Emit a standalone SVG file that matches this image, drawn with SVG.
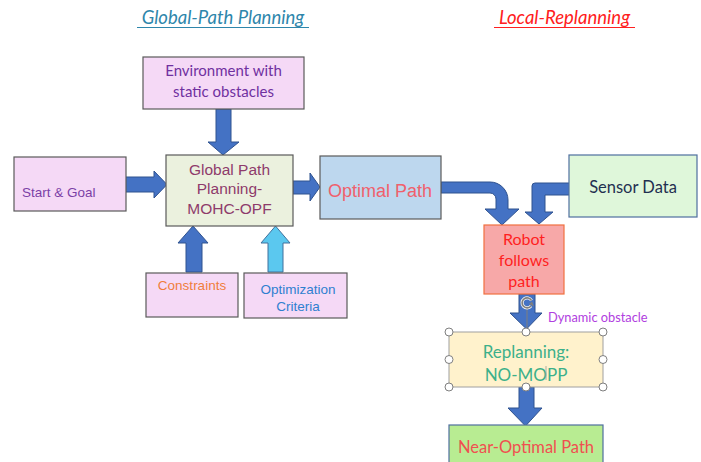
<svg xmlns="http://www.w3.org/2000/svg" width="701" height="462" viewBox="0 0 701 462">
  <style>
    .box { stroke: #5a5a5a; stroke-width: 1.2; }
    .arr { fill: #4472c4; stroke: #2f528f; stroke-width: 1; }
    .arr2 { fill: #5bc8ef; stroke: #41719c; stroke-width: 1; }
    .ar { font-family: "Liberation Sans", Arial, sans-serif; text-anchor: middle; }
    .ca { font-family: Lato, "Open Sans", sans-serif; text-anchor: middle; }
    .handle { fill: #ffffff; stroke: #7f7f7f; stroke-width: 1; }
  </style>

  <!-- section headings -->
  <g id="title-global">
    <text x="223" y="24" class="ca" font-size="18.5" font-style="italic" fill="#2e86ab">Global-Path Planning</text>
    <line x1="137" y1="27.5" x2="309" y2="27.5" stroke="#2e86ab" stroke-width="1.2"/>
  </g>
  <g id="title-local">
    <text x="564.5" y="24" class="ca" font-size="18.5" font-style="italic" fill="#ff2020">Local-Replanning</text>
    <line x1="494" y1="27.5" x2="635" y2="27.5" stroke="#ff2020" stroke-width="1.2"/>
  </g>

  <!-- connectors (block arrows) -->
  <g id="connectors">
    <!-- environment -> global planner -->
    <path class="arr" d="M216,109 H231 V142 H239 L223,155 L208,142 H216 Z"/>
    <!-- start & goal -> global planner -->
    <path class="arr" d="M124,177 H154 V171 L167,184.5 L154,198 V192 H124 Z"/>
    <!-- global planner -> optimal path -->
    <path class="arr" d="M293,181 H310 V173 L320,187 L310,201 V194 H293 Z"/>
    <!-- constraints -> global planner -->
    <path class="arr" d="M186,272 V243 H178 L193,226 L208,243 H202 V272 Z"/>
    <!-- optimization criteria -> global planner -->
    <path class="arr2" d="M268,272 V243 H261 L275.5,226 L290,243 H283 V272 Z"/>
    <!-- optimal path -> robot (bent) -->
    <path class="arr" d="M441,182 H490 A18,18 0 0 1 508,200 V209 H519 L502,225 L485,209 H496 V199 A6,6 0 0 0 490,193 H441 Z"/>
    <!-- sensor data -> robot (bent) -->
    <path class="arr" d="M570,183 H535 A3,3 0 0 0 532,186 V212 H525 L539,224 L553,212 H545 V195 H570 Z"/>
    <!-- robot -> replanning (dynamic obstacle) -->
    <path class="arr" d="M519,294 H535 V313 H542 L526.5,329 L510,313 H519 Z"/>
    <!-- replanning -> near-optimal path -->
    <path class="arr" d="M519,387 H534 V408 H542 L525.5,426 L508,408 H519 Z"/>
  </g>

  <g id="environment">
    <rect class="box" x="143" y="57" width="161" height="52" fill="#f5d9f6"/>
    <text class="ca" x="223.5" y="76" font-size="15" fill="#7030a0">Environment with</text>
    <text class="ca" x="223.5" y="97" font-size="15" fill="#7030a0">static obstacles</text>
  </g>

  <g id="start-goal">
    <rect class="box" x="14" y="157" width="112" height="54" fill="#f5d9f6"/>
    <text x="22" y="197" font-family="Liberation Sans, Arial, sans-serif" font-size="13.5" fill="#7b3fa6">Start &amp; Goal</text>
  </g>

  <g id="global-planner">
    <rect class="box" x="166" y="155" width="127" height="71" fill="#ebf1de" stroke="#7f7f7f"/>
    <text class="ar" x="229.5" y="175" font-size="15.5" fill="#8e3b6b">Global Path</text>
    <text class="ar" x="229.5" y="194" font-size="15.5" fill="#8e3b6b">Planning-</text>
    <text class="ar" x="229.5" y="214" font-size="15.5" fill="#8e3b6b">MOHC-OPF</text>
  </g>

  <g id="optimal-path">
    <rect class="box" x="320" y="156" width="121" height="63" fill="#bdd7ee"/>
    <text class="ar" x="380" y="197" font-size="18" fill="#f0606c">Optimal Path</text>
  </g>

  <g id="constraints">
    <rect class="box" x="146" y="273" width="92" height="44" fill="#f5d9f6"/>
    <text class="ar" x="192" y="290" font-size="13.5" fill="#f07d3c">Constraints</text>
  </g>

  <g id="optimization-criteria">
    <rect class="box" x="244" y="273" width="103" height="45" fill="#f5d9f6" stroke="#7f7f7f"/>
    <text class="ar" x="298" y="294" font-size="13.5" fill="#2f80d0">Optimization</text>
    <text class="ar" x="298" y="311" font-size="13.5" fill="#2f80d0">Criteria</text>
  </g>

  <g id="sensor-data">
    <rect x="569" y="155" width="128" height="62" fill="#dff7da" stroke="#4f6f9f" stroke-width="1.2"/>
    <text class="ca" x="633" y="192.5" font-size="16.5" fill="#1f3050">Sensor Data</text>
  </g>

  <g id="robot">
    <rect x="484" y="225" width="80" height="69" fill="#f7a8a8" stroke="#f07040" stroke-width="1.2"/>
    <text class="ca" x="524" y="245" font-size="16" fill="#ff1f1f">Robot</text>
    <text class="ca" x="524" y="265.5" font-size="16" fill="#ff1f1f">follows</text>
    <text class="ca" x="524" y="287" font-size="16" fill="#ff1f1f">path</text>
  </g>

  <g id="dynamic-obstacle-label">
    <text x="548" y="322" font-family="Lato, 'Open Sans', sans-serif" font-size="12.8" fill="#b040e0">Dynamic obstacle</text>
  </g>

  <g id="replanning">
    <rect x="449" y="332" width="154" height="55" fill="#fff2cc" stroke="#a0a0a0" stroke-width="1"/>
    <text class="ca" x="526" y="357.5" font-size="17" fill="#3cb08a">Replanning:</text>
    <text class="ca" x="526" y="380.5" font-size="17" fill="#3cb08a">NO-MOPP</text>
    <!-- text caret -->
    <line x1="546" y1="366" x2="546" y2="380" stroke="#9a9a9a" stroke-width="0.8"/>
    <!-- rotation handle and its stem -->
    <line x1="527" y1="308" x2="527" y2="329" stroke="#7f7f7f" stroke-width="1"/>
    <path d="M531.5,300.5 A5,5 0 1 0 531,306" fill="none" stroke="#f2f2f2" stroke-width="3.2"/>
    <path d="M531.5,300.5 A5,5 0 1 0 531,306" fill="none" stroke="#7f7f7f" stroke-width="1.6"/>
    <path d="M529,304 L534,306.5 L532,301.5 Z" fill="#7f7f7f"/>
    <!-- sizing handles -->
    <circle class="handle" cx="449" cy="332" r="4"/>
    <circle class="handle" cx="526" cy="332" r="4"/>
    <circle class="handle" cx="603" cy="332" r="4"/>
    <circle class="handle" cx="449" cy="359.5" r="4"/>
    <circle class="handle" cx="603" cy="359.5" r="4"/>
    <circle class="handle" cx="449" cy="387" r="4"/>
    <circle class="handle" cx="526" cy="387" r="4"/>
    <circle class="handle" cx="603" cy="387" r="4"/>
  </g>

  <g id="near-optimal-path">
    <rect x="449" y="425" width="154" height="45" fill="#b8ec92" stroke="#4f6f9f" stroke-width="1.2"/>
    <text class="ca" x="526" y="453" font-size="16.5" fill="#f05050">Near-Optimal Path</text>
  </g>
</svg>
